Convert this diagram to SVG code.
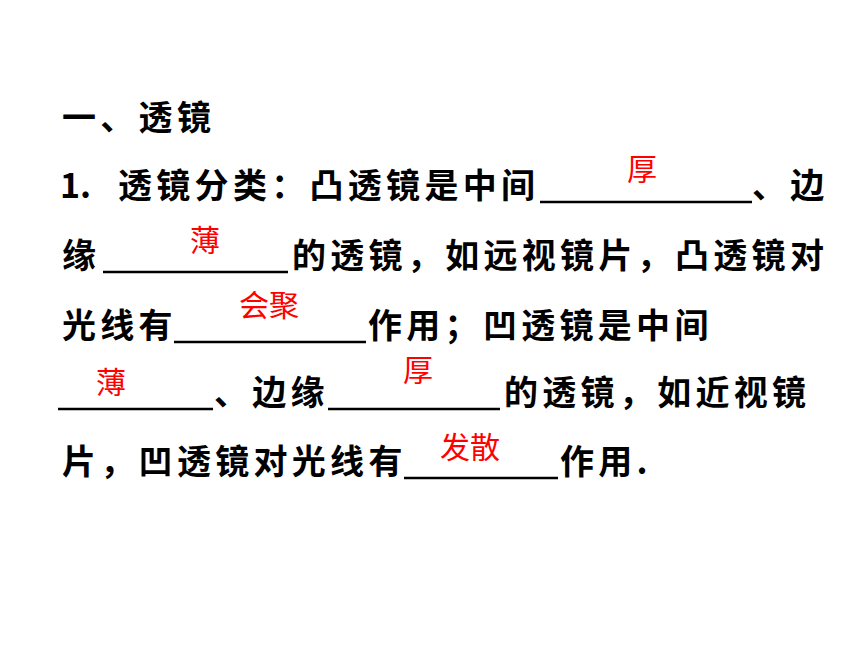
<svg xmlns="http://www.w3.org/2000/svg" width="860" height="645" viewBox="0 0 860 645">
<style>
.t{font-family:"Noto Sans CJK SC","Noto Sans",sans-serif;font-size:34px;font-weight:bold;fill:#000;letter-spacing:4.3px}
.n{font-family:"Noto Sans CJK SC","Noto Sans",sans-serif;font-size:34px;font-weight:bold;fill:#000}
.a{font-family:"Noto Sans CJK SC","Noto Sans",sans-serif;font-size:30px;fill:#ff0000}
.b{stroke:#000;stroke-width:2.5}
</style>
<rect width="860" height="645" fill="#fff"/>
<g id="title"><text class="t" x="62" y="130">一、透镜</text></g>
<g id="line1">
<text class="n" x="60" y="198">1.</text>
<text class="t" x="118" y="198">透镜分类：凸透镜是中间</text>
<line class="b" x1="540" y1="202" x2="752" y2="202"/>
<text class="t" x="752" y="198">、边</text>
<text class="a" x="627" y="180">厚</text>
</g>
<g id="line2">
<text class="t" x="62" y="268">缘</text>
<line class="b" x1="103" y1="272" x2="288" y2="272"/>
<text class="t" x="292" y="268">的透镜，如远视镜片，凸透镜对</text>
<text class="a" x="190" y="251">薄</text>
</g>
<g id="line3">
<text class="t" x="62" y="338">光线有</text>
<line class="b" x1="174" y1="342" x2="366" y2="342"/>
<text class="t" x="368" y="338">作用；凹透镜是中间</text>
<text class="a" x="239" y="316">会聚</text>
</g>
<g id="line4">
<line class="b" x1="58" y1="409" x2="213" y2="409"/>
<text class="t" x="214" y="405">、边缘</text>
<line class="b" x1="328" y1="409" x2="500" y2="409"/>
<text class="t" x="504" y="405">的透镜，如近视镜</text>
<text class="a" x="96" y="393">薄</text>
<text class="a" x="403" y="381">厚</text>
</g>
<g id="line5">
<text class="t" x="62" y="474">片，凹透镜对光线有</text>
<line class="b" x1="404" y1="478" x2="558" y2="478"/>
<text class="t" x="560" y="474">作用.</text>
<text class="a" x="440" y="458">发散</text>
</g>
</svg>
